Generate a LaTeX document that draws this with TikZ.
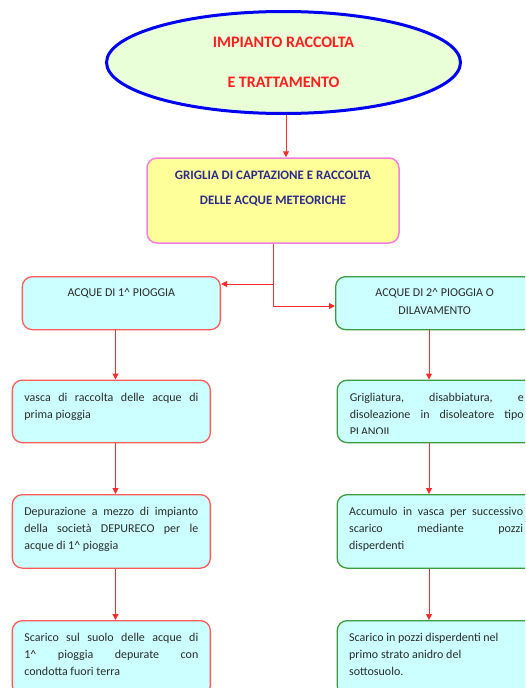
\documentclass[tikz,border=0pt]{standalone}
\usepackage{fontspec}
\setmainfont{Carlito}
\usetikzlibrary{shapes.geometric,arrows.meta}

\definecolor{boxfill}{HTML}{CCFFFF}
\definecolor{redb}{HTML}{FF5A5A}
\definecolor{greenb}{HTML}{3C9D3C}
\definecolor{arrowred}{HTML}{FF2A2A}
\definecolor{titlered}{HTML}{FF1F1F}
\definecolor{hnavy}{HTML}{2B2B8C}
\definecolor{ellblue}{HTML}{0000F0}
\definecolor{ellfill}{HTML}{E8FFD8}
\definecolor{gyell}{HTML}{FFFF99}
\definecolor{gpink}{HTML}{F27FDF}
\definecolor{txtc}{HTML}{2A2A2A}

\newcommand\bodytext[2]{\parbox[t][#1][t]{174pt}{\fontsize{12}{17}\selectfont\tolerance=10000\hyphenpenalty=10000\rule{0pt}{21pt}#2}}
\newcommand\headtext[2]{\parbox[t][#1][t]{174pt}{\centering\fontsize{12}{18}\selectfont\rule{0pt}{20pt}#2}}

\tikzset{
  bx/.style={rectangle, rounded corners=10pt, fill=boxfill, line width=1.3pt,
    inner xsep=12pt, inner ysep=0pt, anchor=north west, text=txtc},
  lbx/.style={bx, draw=redb},
  rbx/.style={bx, draw=greenb},
  conn/.style={draw=arrowred, line width=1pt},
  arr/.style={conn, -{Triangle[length=6pt,width=6pt]}},
}

\begin{document}
\begin{tikzpicture}[x=1pt,y=-1pt]
\useasboundingbox (0,0) rectangle (525,688);
\clip (0,0) rectangle (525,688);

% title ellipse
\node[ellipse, draw=ellblue, line width=3pt, fill=ellfill, minimum width=354pt,
  minimum height=102pt, inner sep=0pt, align=center, text=titlered,
  font=\bfseries\fontsize{16}{40}\selectfont] (e) at (283.5,62.5)
  {IMPIANTO RACCOLTA\\E TRATTAMENTO};

% griglia
\node[rectangle, rounded corners=10pt, draw=gpink, fill=gyell, line width=1.5pt,
  inner sep=0pt, text=hnavy] (g) at (273,200.5)
  {\parbox[t][85pt][t]{252pt}{\centering\bfseries\fontsize{12.9}{25}\selectfont\rule{0pt}{21pt}GRIGLIA DI CAPTAZIONE E RACCOLTA\\DELLE ACQUE METEORICHE}};

% row 1
\node[lbx] (a1) at (21.7,276) {\headtext{53pt}{ACQUE DI 1\textasciicircum{} PIOGGIA}};
\node[rbx] (a2) at (335,276) {\headtext{53pt}{ACQUE DI 2\textasciicircum{} PIOGGIA O\\DILAVAMENTO}};

% row 2
\node[lbx] (b1) at (11.7,379.5) {\bodytext{62.5pt}{vasca di raccolta delle acque di\linebreak prima pioggia}};
\node[rbx, minimum width=198pt, minimum height=62.5pt, path picture={
    \clip ([yshift=9.5pt]path picture bounding box.south west) rectangle (path picture bounding box.north east);
    \node[anchor=north west, inner sep=0pt, minimum width=0pt, minimum height=0pt, text=txtc]
      at ([xshift=12pt]path picture bounding box.north west)
      {\bodytext{62.5pt}{Grigliatura, disabbiatura, e\linebreak disoleazione in disoleatore tipo\linebreak PLANOIL}};
  }] (b2) at (336.5,379.5) {};

% row 3
\node[lbx] (c1) at (11.7,494) {\bodytext{73.5pt}{Depurazione a mezzo di impianto\linebreak della società DEPURECO per le\linebreak acque di 1\textasciicircum{} pioggia}};
\node[rbx] (c2) at (336.5,494) {\bodytext{73.5pt}{Accumulo in vasca per successivo\linebreak scarico mediante pozzi\linebreak disperdenti}};

% row 4
\node[lbx] (d1) at (11.7,620) {\bodytext{75pt}{Scarico sul suolo delle acque di\linebreak 1\textasciicircum{} pioggia depurate con\linebreak condotta fuori terra}};
\node[rbx] (d2) at (336.5,620) {\bodytext{75pt}{Scarico in pozzi disperdenti nel\\primo strato anidro del\\sottosuolo.}};

% connectors
\coordinate (tx) at (286,0);
\coordinate (lx) at (115.5,0);
\coordinate (rx) at (429,0);
\coordinate (j1) at (273,284);
\coordinate (j2) at (273,306);

\draw[arr] (e.south -| tx) -- (g.north -| tx);
\draw[conn] (g.south) -- (j2);
\draw[arr] (j1) -- (j1 -| a1.east);
\draw[arr] (j2) -- (j2 -| a2.west);

\draw[arr] (a1.south -| lx) -- (b1.north -| lx);
\draw[arr] (b1.south -| lx) -- (c1.north -| lx);
\draw[arr] (c1.south -| lx) -- (d1.north -| lx);
\draw[arr] (a2.south -| rx) -- (b2.north -| rx);
\draw[arr] (b2.south -| rx) -- (c2.north -| rx);
\draw[arr] (c2.south -| rx) -- (d2.north -| rx);
\end{tikzpicture}
\end{document}
